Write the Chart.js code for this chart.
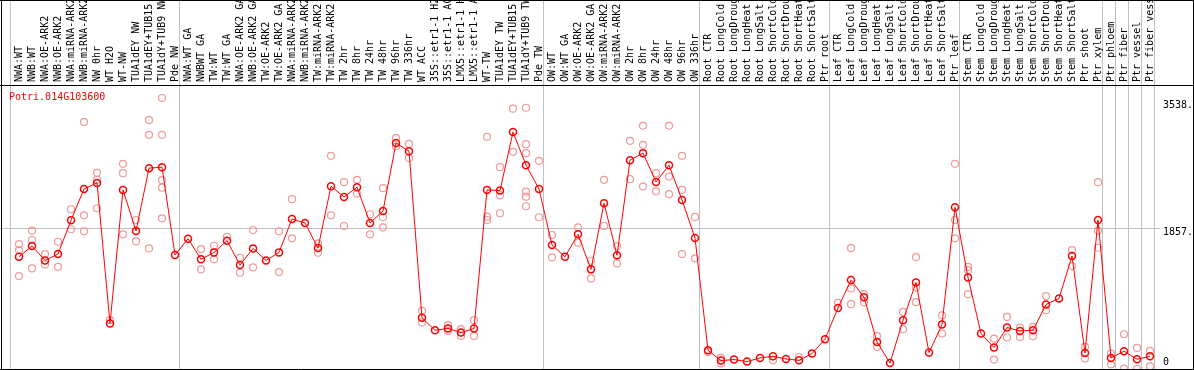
<!DOCTYPE html>
<html>
<head>
<meta charset="utf-8">
<script src="https://cdn.jsdelivr.net/npm/chart.js@4.4.1/dist/chart.umd.min.js"></script>
<style>
  html, body { margin: 0; padding: 0; background: #fff; }
  #wrap { width: 1194px; height: 370px; }
</style>
</head>
<body>
<div id="wrap"><canvas id="chart" width="1194" height="370"></canvas></div>
<script>
// --- data ---
const geneName = 'Potri.014G103600';

const categories = [
  'NWA:WT', 'NWB:WT', 'NWA:OE-ARK2', 'NWB:OE-ARK2', 'NWA:miRNA-ARK2', 'NWB:miRNA-ARK2',
  'NW 0hr', 'WT H2O', 'WT-NW', 'TUA1dEY NW', 'TUA1dEY+TUB15 NW', 'TUA1dY+TUB9 NW', 'Pde NW',
  'NWA:WT GA', 'NWBWT GA', 'TW:WT', 'TW:WT GA', 'NWA:OE-ARK2 GA', 'NWB:OE-ARK2 GA',
  'TW:OE-ARK2', 'TW:OE-ARK2 GA', 'NWA:miRNA-ARK2 GA', 'NWB:miRNA-ARK2 GA', 'TW:miRNA-ARK2',
  'TW:miRNA-ARK2 GA', 'TW 2hr', 'TW 8hr', 'TW 24hr', 'TW 48hr', 'TW 96hr', 'TW 336hr',
  'WT ACC', '35S::etr1-1 H2O', '35S::etr1-1 ACC', 'LMX5::etr1-1 H2O', 'LMX5::etr1-1 ACC',
  'WT-TW', 'TUA1dEY TW', 'TUA1dEY+TUB15 TW', 'TUA1dY+TUB9 TW', 'Pde TW',
  'OW:WT', 'OW:WT GA', 'OW:OE-ARK2', 'OW:OE-ARK2 GA', 'OW:miRNA-ARK2', 'OW:miRNA-ARK2 GA',
  'OW 2hr', 'OW 8hr', 'OW 24hr', 'OW 48hr', 'OW 96hr', 'OW 336hr',
  'Root CTR', 'Root LongCold', 'Root LongDrought', 'Root LongHeat', 'Root LongSalt',
  'Root ShortCold', 'Root ShortDrought', 'Root ShortHeat', 'Root ShortSalt', 'Ptr root',
  'Leaf CTR', 'Leaf LongCold', 'Leaf LongDrought', 'Leaf LongHeat', 'Leaf LongSalt',
  'Leaf ShortCold', 'Leaf ShortDrought', 'Leaf ShortHeat', 'Leaf ShortSalt', 'Ptr leaf',
  'Stem CTR', 'Stem LongCold', 'Stem LongDrought', 'Stem LongHeat', 'Stem LongSalt',
  'Stem ShortCold', 'Stem ShortDrought', 'Stem ShortHeat', 'Stem ShortSalt', 'Ptr shoot',
  'Ptr xylem', 'Ptr phloem', 'Ptr fiber', 'Ptr vessel', 'Ptr fiber vessel'
];

// mean expression per sample (the dark red line)
const means = [
  1486, 1628, 1438, 1522, 1969, 2384, 2464, 602, 2371, 1827, 2659, 2672, 1509,
  1725, 1452, 1544, 1698, 1376, 1597, 1438, 1544, 1986, 1933, 1601, 2420, 2278,
  2407, 1933, 2092, 2991, 2884, 677, 513, 536, 483, 536, 2371, 2362, 3137, 2699, 2384,
  1641, 1486, 1783, 1319, 2195, 1505, 2765, 2858, 2477, 2699, 2238, 1734,
  248, 111, 125, 98, 146, 168, 133, 115, 204, 394,
  809, 1177, 951, 358, 80, 646, 1146, 218, 589, 2141,
  1213, 470, 284, 549, 504, 513, 854, 934, 1495, 212, 1973,
  146, 235, 129, 168
];

// single replicates (the pale circles)
const replicates = [
  [1654, 1575, 1230], [1831, 1708, 1332], [1522, 1385], [1685, 1353], [2115, 1850],
  [3269, 2035, 1823], [2597, 2504, 2128], [646], [2716, 2593, 1783], [1973, 1690],
  [3296, 3101, 1597], [3588, 3101, 2500, 2401, 1995], [],
  [], [1588, 1319], [1632, 1452], [1751], [1473, 1274], [1840, 1345], [], [1823, 1283],
  [2248, 1730], [], [1664, 1539], [2822, 2035], [2473, 1893], [2504, 2322], [2049, 1783],
  [2394, 2009, 1876], [3057, 2946], [2981, 2792], [770, 616], [], [580, 504], [527, 438],
  [646, 438], [3074, 2017, 1973], [2672, 2301, 2062], [3446, 2875],
  [3459, 2977, 2858, 2348, 2282, 2155], [2756, 2009],
  [1774, 1478], [], [1876, 1672], [1433, 1199], [2504, 1893], [1628, 1398], [3021, 2513],
  [3220, 2968, 2415], [2593, 2354], [3220, 2547, 2314], [2822, 2371, 1522], [2013, 1465],
  [226], [146, 72], [], [], [], [115], [], [159], [], [],
  [876], [1601, 1067, 858], [991, 885], [434, 292], [], [756, 527], [1482, 1080, 885], [],
  [709, 470], [2716, 1973, 1730],
  [1353, 1310, 991], [], [403, 125], [690, 417], [549, 425], [557, 434], [965, 779], [],
  [1575, 1363], [292, 138], [2473, 1831, 1605],
  [204, 62], [460, 5], [279, 0], [239, 36]
];

// first sample of each tissue group (last entry closes the plot)
const groupStarts = [0, 13, 41, 53, 63, 73, 84, 85, 86, 87, 88];

const yTicks = [0, 1857, 3538];
const yTickLabels = ['0', '1857.', '3538.'];

// --- chart setup ---
const FONT = "'DejaVu Sans Mono', monospace";
Chart.defaults.font.family = FONT;
Chart.defaults.font.size = 10;
Chart.defaults.color = '#000';

const boundaries = groupStarts.map(s => s - 0.63);
const xTicks = categories.map((c, i) => i).concat(boundaries).sort((a, b) => a - b);

const meanPoints = means.map((v, i) => ({ x: i, y: v }));
const repPoints = [];
replicates.forEach((reps, i) => reps.forEach(v => repPoints.push({ x: i, y: v })));

const framePlugin = {
  id: 'frame',
  beforeDraw(chart) {
    // keep the "0" label inside the plot like the original
    const bottom = chart.chartArea.bottom;
    chart.scales.y.getLabelItems().forEach(item => {
      if (item.label === yTickLabels[0]) item.options.translation[1] = bottom - 7;
    });
  },
  afterDraw(chart) {
    const ctx = chart.ctx;
    const area = chart.chartArea;
    const w = chart.width, h = chart.height;
    ctx.save();
    // gene name in the corner of the plot
    ctx.fillStyle = '#ff0000';
    ctx.font = '10px ' + FONT;
    ctx.textBaseline = 'middle';
    ctx.textAlign = 'left';
    ctx.fillText(geneName, area.left + 9, area.top + 12);
    // outer frame and the line under the labels
    ctx.strokeStyle = '#000';
    ctx.lineWidth = 1;
    ctx.beginPath();
    ctx.moveTo(0, area.top + 0.5);
    ctx.lineTo(w, area.top + 0.5);
    ctx.moveTo(1.5, 0);
    ctx.lineTo(1.5, h);
    ctx.moveTo(w - 0.5, 0);
    ctx.lineTo(w - 0.5, h);
    ctx.moveTo(0, 0.5);
    ctx.lineTo(w, 0.5);
    ctx.moveTo(0, h - 0.5);
    ctx.lineTo(w, h - 0.5);
    ctx.stroke();
    ctx.restore();
  }
};

new Chart(document.getElementById('chart'), {
  type: 'line',
  data: {
    datasets: [
      {
        label: geneName,
        data: meanPoints,
        borderColor: '#ff0000',
        borderWidth: 1,
        pointRadius: 3.5,
        pointBorderWidth: 1.5,
        pointBorderColor: '#ff0000',
        pointBackgroundColor: 'rgba(255,255,255,0)',
        tension: 0,
        order: 0
      },
      {
        label: 'replicates',
        data: repPoints,
        showLine: false,
        pointRadius: 3.5,
        pointBorderWidth: 1.2,
        pointBorderColor: '#f09a9a',
        pointBackgroundColor: 'rgba(255,255,255,0)',
        order: 1
      }
    ]
  },
  options: {
    responsive: false,
    animation: false,
    devicePixelRatio: 1,
    layout: { autoPadding: false, padding: { left: 0, right: 0, top: 0, bottom: 1 } },
    plugins: {
      legend: { display: false },
      tooltip: { enabled: false }
    },
    scales: {
      x: {
        type: 'linear',
        position: 'top',
        min: -19 / 13,
        max: 1155 / 13 - 19 / 13,
        afterBuildTicks: axis => { axis.ticks = xTicks.map(v => ({ value: v })); },
        afterFit: axis => {
          axis.height = 85;
          axis.paddingLeft = 0;
          axis.paddingRight = 0;
        },
        ticks: {
          autoSkip: false,
          minRotation: 90,
          maxRotation: 90,
          padding: -82,
          labelOffset: 12,
          color: '#000',
          callback: v => Number.isInteger(v) ? categories[v] : ''
        },
        grid: {
          color: ctx => (ctx.tick && !Number.isInteger(ctx.tick.value)) ? '#c0c0c0' : 'rgba(0,0,0,0)',
          tickLength: 85,
          lineWidth: 1
        },
        border: { display: false }
      },
      y: {
        position: 'right',
        min: 0,
        max: 3760,
        afterBuildTicks: axis => { axis.ticks = yTicks.map(v => ({ value: v })); },
        afterFit: axis => {
          axis.width = 39;
          axis.paddingTop = 0;
          axis.paddingBottom = 0;
        },
        ticks: {
          padding: 3,
          labelOffset: 4,
          color: '#000',
          callback: (v, i) => yTickLabels[i]
        },
        grid: {
          color: ctx => (ctx.tick && ctx.tick.value === yTicks[1]) ? '#c0c0c0' : 'rgba(0,0,0,0)',
          tickLength: 5
        },
        border: { display: false }
      }
    }
  },
  plugins: [framePlugin]
});
</script>
</body>
</html>
